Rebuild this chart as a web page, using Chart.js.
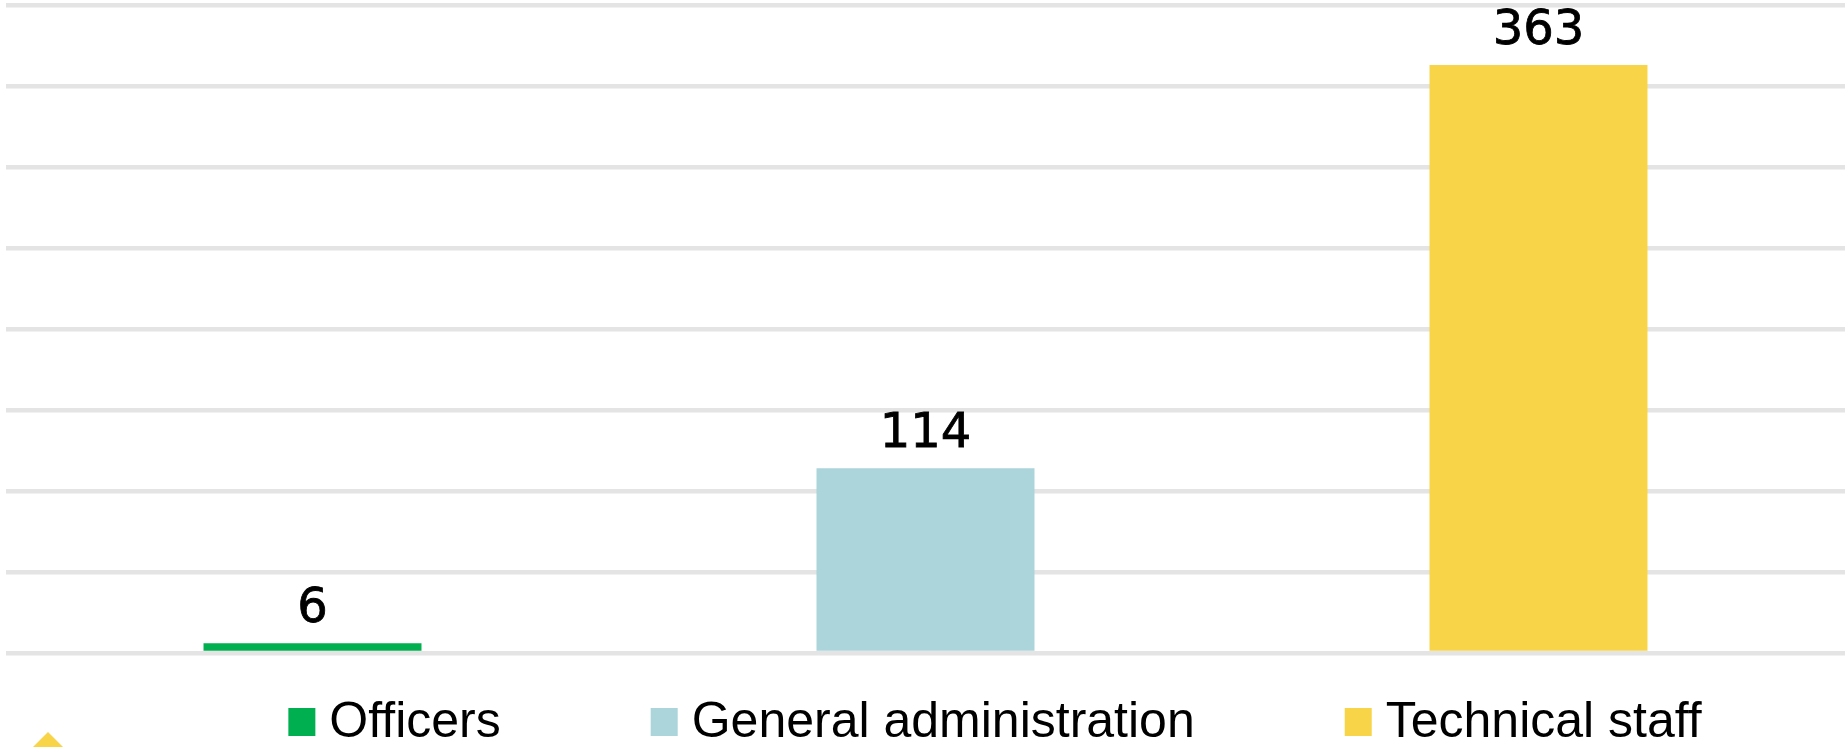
<!DOCTYPE html>
<html>
<head>
<meta charset="utf-8">
<script src="https://cdn.jsdelivr.net/npm/chart.js@4/dist/chart.umd.min.js"></script>
<style>
  html, body { margin: 0; padding: 0; background: #ffffff; }
  #wrap { width: 1847px; height: 747px; position: relative; }
</style>
</head>
<body>
<div id="wrap"><canvas id="c"></canvas></div>
<script>
// ---- data ----
const categories = [''];
const seriesNames = ['Officers', 'General administration', 'Technical staff'];
const officers = [6];
const generalAdministration = [114];
const technicalStaff = [363];
const seriesColors = ['#00B050', '#ABD4DB', '#F8D448'];
const yMin = 0;
const yMax = 400;
const yStep = 50;

const seriesValues = [officers, generalAdministration, technicalStaff];

// value labels above bars
const valueLabels = {
  id: 'valueLabels',
  afterDatasetsDraw(chart) {
    const ctx = chart.ctx;
    ctx.save();
    ctx.font = '48px "DejaVu Sans", sans-serif';
    ctx.fillStyle = '#000000';
    ctx.strokeStyle = '#000000';
    ctx.lineWidth = 0.8;
    ctx.textAlign = 'center';
    ctx.textBaseline = 'alphabetic';
    chart.data.datasets.forEach((ds, i) => {
      const meta = chart.getDatasetMeta(i);
      meta.data.forEach((el, j) => {
        const t = String(ds.data[j]);
        ctx.fillText(t, el.x, el.y - 21);
        ctx.strokeText(t, el.x, el.y - 21);
      });
    });
    ctx.restore();
  }
};

// legend row + corner decoration
const legendRow = {
  id: 'legendRow',
  afterDraw(chart) {
    const ctx = chart.ctx;
    ctx.save();
    ctx.font = '50px "Liberation Sans", Arial, sans-serif';
    const box = 27, gap = 14, spacing = 150;
    const items = chart.data.datasets.map(ds => ({
      text: ds.label, color: ds.backgroundColor, w: ctx.measureText(ds.label).width
    }));
    const total = items.reduce((s, it) => s + box + gap + it.w, 0) + spacing * (items.length - 1);
    let x = 995 - total / 2;
    const boxTop = 708, baseline = 737;
    items.forEach(it => {
      ctx.fillStyle = it.color;
      ctx.fillRect(x, boxTop, box, 28);
      ctx.fillStyle = '#000000';
      ctx.textAlign = 'left';
      ctx.textBaseline = 'alphabetic';
      ctx.fillText(it.text, x + box + gap, baseline);
      x += box + gap + it.w + spacing;
    });
    // small yellow triangle decoration at bottom-left
    ctx.fillStyle = '#F8D448';
    ctx.beginPath();
    ctx.moveTo(48, 732);
    ctx.lineTo(28, 752);
    ctx.lineTo(68, 752);
    ctx.closePath();
    ctx.fill();
    ctx.restore();
  }
};

new Chart(document.getElementById('c'), {
  type: 'bar',
  data: {
    labels: categories,
    datasets: seriesNames.map((name, i) => ({
      label: name,
      data: seriesValues[i],
      backgroundColor: seriesColors[i],
      borderWidth: 0,
      categoryPercentage: 1.0,
      barPercentage: 0.3556
    }))
  },
  options: {
    responsive: true,
    maintainAspectRatio: false,
    animation: false,
    devicePixelRatio: 1,
    layout: { padding: { top: 5, left: 6, right: 2, bottom: 94 } },
    plugins: {
      legend: { display: false },
      tooltip: { enabled: false },
      title: { display: false }
    },
    scales: {
      x: { display: false },
      y: {
        min: yMin,
        max: yMax,
        ticks: { display: false, stepSize: yStep },
        border: { display: false },
        grid: { color: '#E4E4E4', lineWidth: 4.5, drawTicks: false }
      }
    }
  },
  plugins: [valueLabels, legendRow]
});
</script>
</body>
</html>
